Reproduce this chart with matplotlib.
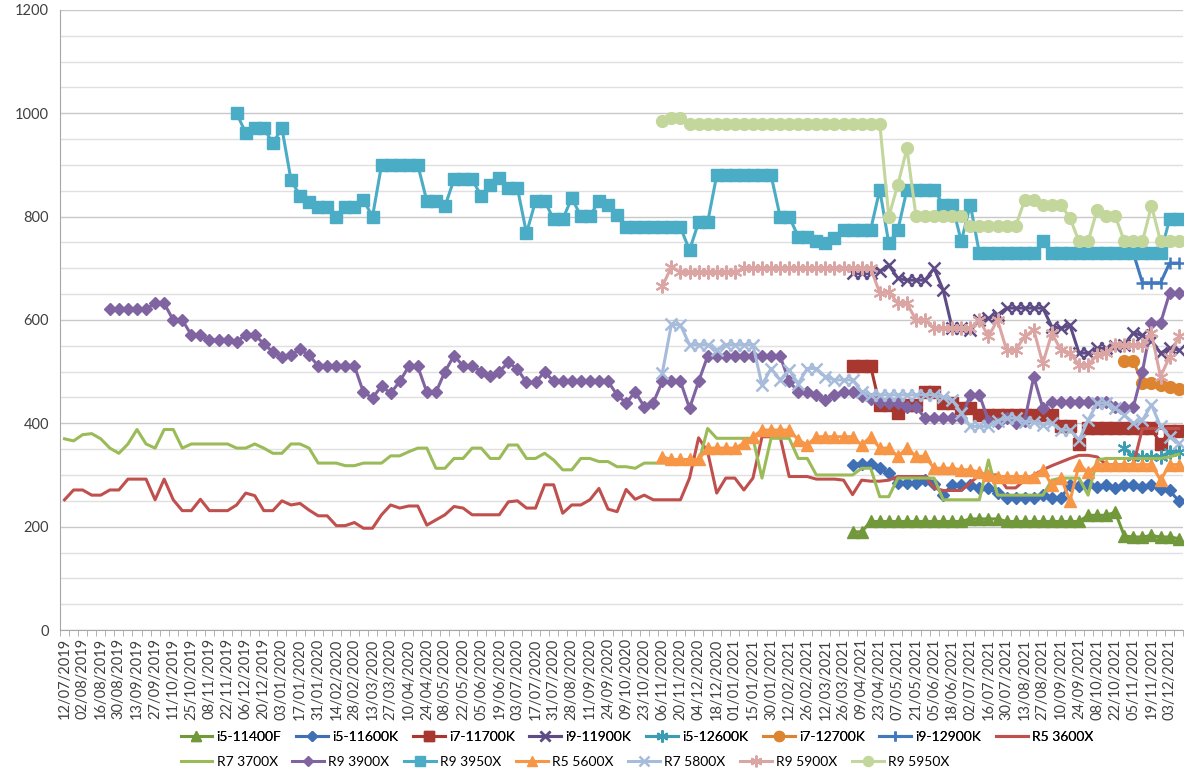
import numpy as np
import matplotlib.pyplot as plt
from matplotlib.lines import Line2D

plt.rcParams['font.family'] = ['Lato', 'DejaVu Sans']

N_POINTS = 124

# one label every second sample
date_labels = [
    '12/07/2019', '02/08/2019', '16/08/2019', '30/08/2019', '13/09/2019', '27/09/2019',
    '11/10/2019', '25/10/2019', '08/11/2019', '22/11/2019', '06/12/2019', '20/12/2019',
    '03/01/2020', '17/01/2020', '31/01/2020', '14/02/2020', '28/02/2020', '13/03/2020',
    '27/03/2020', '10/04/2020', '24/04/2020', '08/05/2020', '22/05/2020', '05/06/2020',
    '19/06/2020', '03/07/2020', '17/07/2020', '31/07/2020', '28/08/2020', '11/09/2020',
    '24/09/2020', '09/10/2020', '23/10/2020', '06/11/2020', '20/11/2020', '04/12/2020',
    '18/12/2020', '01/01/2021', '15/01/2021', '30/01/2021', '12/02/2021', '26/02/2021',
    '12/03/2021', '26/03/2021', '09/04/2021', '23/04/2021', '07/05/2021', '21/05/2021',
    '05/06/2021', '18/06/2021', '02/07/2021', '16/07/2021', '30/07/2021', '13/08/2021',
    '27/08/2021', '10/09/2021', '24/09/2021', '08/10/2021', '22/10/2021', '05/11/2021',
    '19/11/2021', '03/12/2021',
]

# first sample index of each product
start_i5_11400f = 87
start_i5_11600k = 87
start_i7_11700k = 87
start_i9_11900k = 87
start_i5_12600k = 117
start_i7_12700k = 117
start_i9_12900k = 118
start_r5_3600x = 0
start_r7_3700x = 0
start_r9_3900x = 5
start_r9_3950x = 19
start_r5_5600x = 66
start_r7_5800x = 66
start_r9_5900x = 66
start_r9_5950x = 66

i5_11400f = [190, 190, 210, 210, 210, 210, 210, 210, 210, 210, 210, 210, 210, 215, 215, 215,
             215, 210, 210, 210, 210, 210, 210, 210, 210, 210, 222, 222, 222, 228, 182, 180,
             180, 183, 180, 180, 177]
i5_11600k = [320, 322, 322, 313, 303, 285, 285, 285, 290, 282, 262, 281, 281, 281, 275, 275,
             265, 255, 255, 255, 255, 262, 255, 255, 281, 278, 282, 276, 280, 275, 280, 280,
             276, 280, 272, 270, 250]
i7_11700k = [510, 510, 510, 435, 435, 420, 435, 435, 460, 460, 440, 440, 430, 430, 416, 416,
             416, 416, 416, 416, 416, 416, 416, 395, 395, 360, 390, 390, 390, 390, 390, 390,
             390, 390, 360, 385, 385]
i9_11900k = [690, 690, 690, 694, 706, 681, 677, 677, 677, 700, 658, 584, 584, 581, 600, 603,
             610, 623, 623, 623, 623, 623, 587, 584, 590, 536, 536, 545, 545, 550, 552, 575,
             570, 560, 536, 545, 542]
i5_12600k = [352, 335, 335, 335, 335, 345, 345]
i7_12700k = [520, 520, 478, 478, 475, 470, 467]
i9_12900k = [729, 672, 672, 672, 710, 710]

r5_3600x = [252, 271, 271, 261, 261, 271, 271, 292, 292, 292, 252, 292, 252, 231, 231, 253,
            231, 231, 231, 242, 265, 260, 231, 231, 250, 242, 245, 232, 221, 221, 202, 202,
            208, 197, 197, 223, 242, 236, 240, 240, 203, 213, 223, 239, 236, 223, 223, 223,
            223, 248, 250, 236, 236, 281, 281, 226, 242, 242, 252, 274, 234, 229, 272, 253,
            261, 252, 252, 252, 252, 294, 372, 345, 265, 294, 294, 271, 294, 374, 374, 374,
            297, 297, 297, 292, 292, 292, 290, 262, 290, 288, 288, 290, 297, 297, 297, 297,
            275, 270, 270, 270, 285, 300, 300, 300, 275, 275, 290, 300, 310, 318, 325, 332,
            338, 338, 335, 320, 320, 320, 320, 390, 390, 390, 390, 390]
r7_3700x = [370, 366, 378, 380, 370, 352, 342, 360, 388, 360, 352, 388, 388, 352, 360, 360,
            360, 360, 360, 352, 352, 360, 352, 342, 342, 360, 360, 352, 323, 323, 323, 318,
            318, 323, 323, 323, 337, 337, 345, 352, 352, 313, 313, 332, 332, 352, 352, 332,
            332, 358, 358, 332, 332, 342, 329, 310, 310, 332, 332, 326, 326, 316, 316, 313,
            323, 323, 323, 323, 323, 323, 323, 390, 371, 371, 371, 371, 371, 294, 371, 371,
            371, 332, 332, 300, 300, 300, 300, 300, 313, 313, 258, 258, 294, 294, 294, 294,
            294, 252, 252, 252, 252, 252, 329, 261, 261, 261, 261, 261, 261, 290, 294, 294,
            294, 261, 329, 332, 332, 332, 332, 332, 332, 332, 335, 340]
r9_3900x = [621, 621, 621, 621, 621, 632, 632, 600, 600, 571, 571, 561, 561, 561, 558, 571,
            571, 554, 538, 529, 532, 543, 532, 511, 511, 511, 511, 511, 460, 449, 472, 458,
            481, 510, 510, 460, 460, 500, 531, 511, 511, 500, 492, 500, 518, 505, 479, 479,
            500, 481, 481, 481, 481, 481, 481, 481, 455, 439, 461, 432, 440, 481, 481, 481,
            429, 481, 530, 530, 530, 530, 530, 530, 530, 530, 530, 481, 461, 461, 455, 445,
            455, 461, 461, 452, 448, 442, 440, 440, 432, 432, 410, 410, 410, 410, 410, 455,
            455, 405, 400, 410, 400, 405, 490, 430, 442, 442, 442, 442, 442, 442, 442, 432,
            432, 432, 500, 594, 594, 652, 652]
r9_3950x = [1000, 962, 971, 971, 942, 971, 871, 840, 829, 819, 819, 800, 819, 819, 832, 800,
            900, 900, 900, 900, 900, 830, 830, 820, 872, 872, 872, 840, 861, 874, 855, 855,
            768, 830, 830, 795, 795, 836, 801, 801, 830, 823, 803, 779, 779, 779, 779, 779,
            779, 779, 735, 789, 789, 880, 880, 880, 880, 880, 880, 880, 800, 800, 761, 761,
            752, 748, 758, 775, 775, 775, 775, 852, 748, 774, 852, 852, 852, 852, 823, 823,
            752, 823, 729, 729, 729, 729, 729, 729, 729, 752, 729, 729, 729, 729, 729, 729,
            729, 729, 729, 729, 729, 729, 729, 795, 795]
r5_5600x = [335, 330, 330, 330, 330, 352, 352, 352, 352, 361, 374, 387, 387, 387, 387, 368,
            358, 374, 374, 374, 374, 374, 358, 374, 352, 352, 336, 352, 336, 336, 313, 313,
            313, 310, 310, 305, 300, 297, 297, 297, 297, 297, 310, 280, 295, 250, 320, 305,
            320, 320, 320, 320, 320, 320, 320, 290, 320, 320]
r7_5800x = [498, 592, 590, 552, 552, 552, 542, 552, 552, 552, 552, 474, 506, 484, 503, 477,
            506, 506, 490, 484, 484, 484, 461, 455, 455, 455, 455, 455, 455, 455, 455, 450,
            445, 420, 394, 394, 394, 405, 410, 410, 403, 403, 397, 400, 387, 387, 368, 406,
            439, 439, 429, 416, 400, 406, 436, 394, 374, 361]
r9_5900x = [665, 703, 692, 692, 692, 692, 692, 692, 692, 700, 700, 700, 700, 700, 700, 700,
            700, 700, 700, 700, 700, 700, 700, 700, 652, 655, 632, 632, 600, 600, 584, 584,
            584, 584, 584, 600, 568, 600, 542, 542, 568, 581, 516, 574, 542, 536, 513, 513,
            532, 536, 552, 552, 552, 552, 574, 490, 529, 568]
r9_5950x = [985, 990, 990, 980, 980, 980, 980, 980, 980, 980, 980, 980, 980, 980, 980, 980,
            980, 980, 980, 980, 980, 980, 980, 980, 980, 800, 862, 932, 801, 801, 801, 801,
            801, 801, 781, 781, 781, 781, 781, 781, 832, 832, 823, 823, 823, 797, 752, 752,
            813, 801, 801, 752, 752, 752, 821, 752, 752, 752]


def pad(start, values):
    out = np.full(N_POINTS, np.nan)
    out[start:start + len(values)] = values
    return out


series = [
    ('i5-11400F', pad(start_i5_11400f, i5_11400f), '#72983C', '^', 8, 1),
    ('i5-11600K', pad(start_i5_11600k, i5_11600k), '#3F6FB5', 'D', 6.5, 1),
    ('i7-11700K', pad(start_i7_11700k, i7_11700k), '#A8372F', 's', 8.5, 1),
    ('i9-11900K', pad(start_i9_11900k, i9_11900k), '#5E4C86', 'x', 8, 1.8),
    ('i5-12600K', pad(start_i5_12600k, i5_12600k), '#3A9DB1', (6, 2, 0), 10, 1.5),
    ('i7-12700K', pad(start_i7_12700k, i7_12700k), '#DD8430', 'o', 8.5, 1),
    ('i9-12900K', pad(start_i9_12900k, i9_12900k), '#4178BE', '+', 9, 1.8),
    ('R5 3600X', pad(start_r5_3600x, r5_3600x), '#C0504D', None, 0, 1),
    ('R7 3700X', pad(start_r7_3700x, r7_3700x), '#9BBB59', None, 0, 1),
    ('R9 3900X', pad(start_r9_3900x, r9_3900x), '#8064A2', 'D', 6.5, 1),
    ('R9 3950X', pad(start_r9_3950x, r9_3950x), '#4BACC6', 's', 8.5, 1),
    ('R5 5600X', pad(start_r5_5600x, r5_5600x), '#F79646', '^', 8, 1),
    ('R7 5800X', pad(start_r7_5800x, r7_5800x), '#A7BCDB', 'x', 8, 1.8),
    ('R9 5900X', pad(start_r9_5900x, r9_5900x), '#DBA5A4', (6, 2, 0), 10, 1.5),
    ('R9 5950X', pad(start_r9_5950x, r9_5950x), '#C3D69B', 'o', 8.5, 1),
]

fig = plt.figure(figsize=(12, 7.84), dpi=100)
ax = fig.add_axes([0.05, 0.1964, 0.936, 0.791])

x = np.arange(N_POINTS)
handles = []
for z, (name, vals, color, marker, ms, mew) in enumerate(series):
    ax.plot(x, vals, color=color, lw=2.2, marker=marker, ms=ms, mew=mew,
            mec=color, mfc=color, zorder=3 + z)
    handles.append(Line2D([], [], color=color, lw=2.2, marker=marker, ms=ms * 0.85,
                          mew=mew, mec=color, mfc=color, label=name))

ax.set_xlim(-0.5, N_POINTS - 0.5)
ax.set_ylim(0, 1200)
ax.set_yticks(range(0, 1201, 200))
ax.set_yticks(range(0, 1201, 50), minor=True)
ax.grid(axis='y', which='major', color='#C8C8C8', lw=1)
ax.grid(axis='y', which='minor', color='#E0E0E0', lw=1)
ax.set_axisbelow(True)
ax.tick_params(axis='y', which='both', length=0, labelsize=10.5,
               labelcolor='#404040', pad=8)

ax.set_xticks(np.arange(0, N_POINTS, 2))
ax.set_xticklabels(date_labels, rotation=90, fontsize=10.5, color='#404040')
ax.set_xticks(np.arange(-0.5, N_POINTS, 1), minor=True)
ax.tick_params(axis='x', which='major', length=0, pad=6)
ax.tick_params(axis='x', which='minor', length=4, color='#A6A6A6')

for side in ['top', 'right']:
    ax.spines[side].set_visible(False)
ax.spines['left'].set_color('#A6A6A6')
ax.spines['bottom'].set_color('#A6A6A6')

row1 = fig.legend(handles=handles[:8], loc='center left', bbox_to_anchor=(0.14, 0.06),
                  ncol=8, frameon=False, fontsize=10, handlelength=2.3,
                  handletextpad=0.3, columnspacing=1.05)
fig.add_artist(row1)
fig.legend(handles=handles[8:], loc='center left', bbox_to_anchor=(0.14, 0.028),
           ncol=7, frameon=False, fontsize=10, handlelength=2.3,
           handletextpad=0.3, columnspacing=1.05)

fig.savefig('out.png', dpi=100)
